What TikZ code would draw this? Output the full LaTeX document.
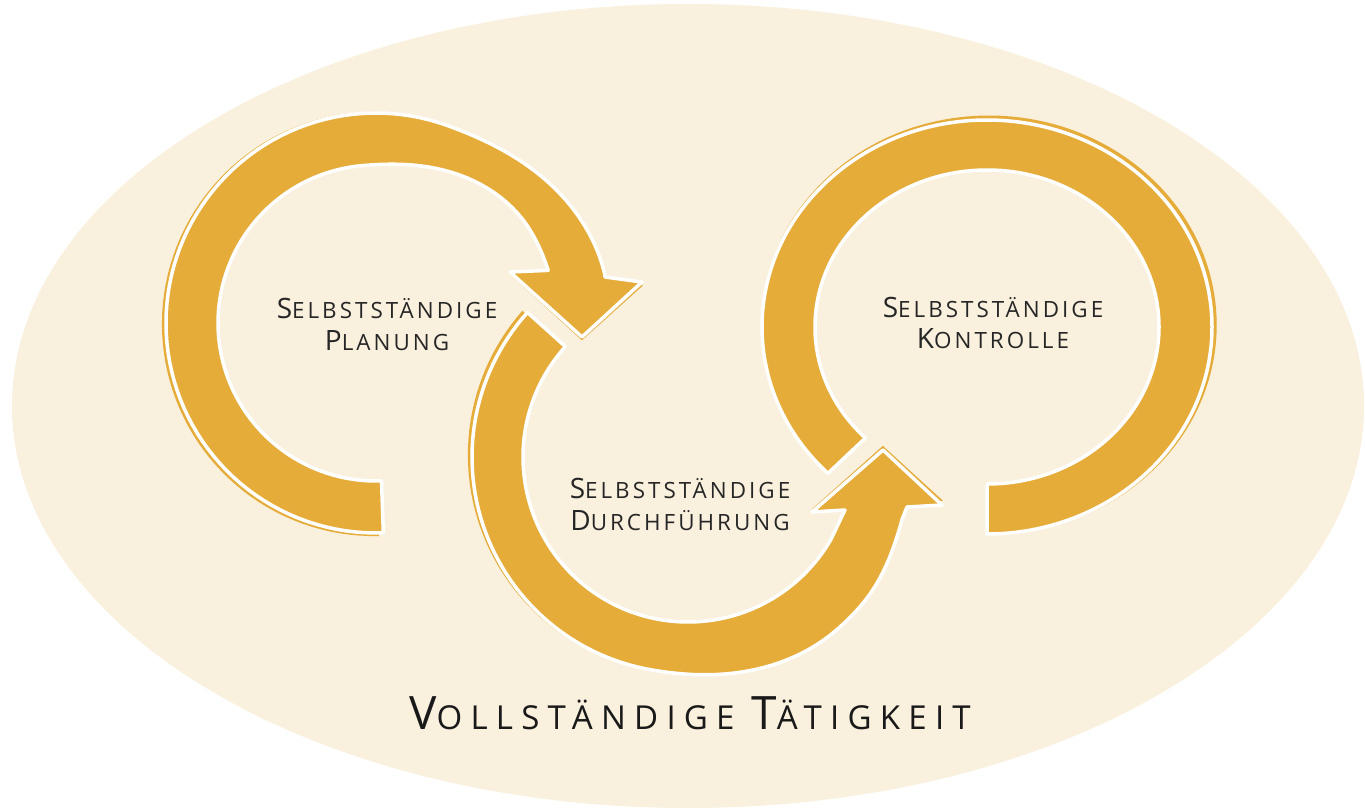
\documentclass[tikz,border=0pt]{standalone}
\usepackage{fontspec}
\newfontfamily\hand[LetterSpace=13.5]{Open Sans}
\newfontfamily\handwide[LetterSpace=25]{Open Sans}
\definecolor{gold}{RGB}{230,172,57}
\definecolor{bgbeige}{RGB}{249,240,221}
\definecolor{ink}{RGB}{38,38,38}
\newcommand\labtext[2]{{\fontsize{28}{28}\selectfont #1}{\fontsize{22.4}{28}\selectfont #2}}
\newcommand\titletext[2]{{\fontsize{46}{46}\selectfont #1}{\fontsize{33}{46}\selectfont #2}}
% paths in screen-like coordinates (y down), relative to each ring's centre
\def\arrowone{(88:210) -- (88:158)
  -- plot[domain=88:343, samples=100] (\x:{158+22*sstep(clampt(\x,265,330))})
  -- (134,-51) -- (206,14) -- (266,-41) -- (229,-46)
  -- plot[domain=348:88, samples=100] (\x:{210+24*sstep(clampt(\x,290,350))})
  -- cycle}
\def\arrowtwo{(222:216) -- (222:165) arc[start angle=222, end angle=30, radius=165]
  -- (157,53) -- (124,55) -- (195,-7) -- (254,48) -- (219,50)
  -- plot[domain=16:222, samples=100] (\x:{216+12*sstep(clampt(\x,100,50))-5*sstep(clampt(\x,40,15))})
  -- cycle}
\def\arrowthree{(135:225 and 207) arc[start angle=135, end angle=450, x radius=225, y radius=207] -- (90:172 and 157) arc[start angle=450, end angle=135, x radius=172, y radius=157] -- cycle}
\begin{document}
\begin{tikzpicture}[x=1pt,y=-1pt,
  declare function={clampt(\a,\b,\c)=min(max((\a-\b)/(\c-\b),0),1); sstep(\u)=3*\u*\u-2*\u*\u*\u;},
  arrowfill/.style={fill=gold, draw=white, line width=3.5pt, line join=round},
  shadowfill/.style={fill=gold},
  lab/.style={font=\hand\fontsize{22.4}{28}\selectfont, text=ink, anchor=base, inner sep=0pt},
  ttl/.style={font=\handwide\fontsize{33}{46}\selectfont, text=black!90, anchor=base, inner sep=0pt}]
\useasboundingbox (0,0) rectangle (1365,810);
\fill[bgbeige] (688,406) ellipse [x radius=676, y radius=402];
% arrow 1: Planung
\begin{scope}[shift={(376,323)}]
  \fill[shadowfill, shift={(-2,1)}, rotate=-0.6, scale=1.01] \arrowone;
  \draw[arrowfill] \arrowone;
\end{scope}
% arrow 2: Durchfuehrung
\begin{scope}[shift={(688,457)}]
  \fill[shadowfill, shift={(-2,-2)}, rotate=0.6, scale=1.01] \arrowtwo;
  \draw[arrowfill] \arrowtwo;
\end{scope}
% arrow 3: Kontrolle
\begin{scope}[shift={(987,327)}]
  \fill[shadowfill, shift={(2,-2)}, scale=1.012] \arrowthree;
  \draw[arrowfill] \arrowthree;
\end{scope}
\node[lab] (plan1) at (387,318) {\labtext{S}{ELBSTSTÄNDIGE}};
\node[lab] (plan2) at (387,350) {\labtext{P}{LANUNG}};
\node[lab] (durch1) at (680,498) {\labtext{S}{ELBSTSTÄNDIGE}};
\node[lab] (durch2) at (680,530) {\labtext{D}{URCHFÜHRUNG}};
\node[lab] (kon1) at (993,317) {\labtext{S}{ELBSTSTÄNDIGE}};
\node[lab] (kon2) at (993,348) {\labtext{K}{ONTROLLE}};
\node[ttl] (title) at (690,729) {\titletext{V}{OLLSTÄNDIGE} \titletext{T}{ÄTIGKEIT}};
\end{tikzpicture}
\end{document}
